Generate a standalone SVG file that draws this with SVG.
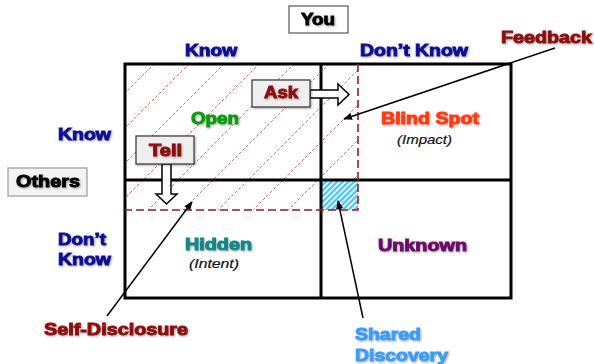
<svg xmlns="http://www.w3.org/2000/svg" width="594" height="364" viewBox="0 0 594 364">
  <defs>
    <style>
      .lbl { font-family: "Liberation Sans", Arial, sans-serif; font-weight: 700; stroke-width: 0.9; paint-order: stroke; }
      .axis { fill: #101090; stroke: #101090; font-size: 16px; }
      .dark { fill: #000; stroke: #000; font-size: 16px; }
      .maroon { fill: #8b0d0d; stroke: #8b0d0d; font-size: 16px; }
      .note { font-family: "Liberation Sans", Arial, sans-serif; font-style: italic; font-size: 13px; fill: #111; stroke: #111; stroke-width: 0.2; }
      .grid { fill: none; stroke: #000; stroke-width: 3; }
      .fence { fill: none; stroke: #a01818; stroke-width: 1.6; stroke-dasharray: 8 4; }
      .hatch { stroke: #c46060; stroke-width: 0.9; stroke-dasharray: 3 2; }
      .tag { fill: #efefef; stroke: #333; stroke-width: 1.2; }
      .block { fill: #fff; stroke: #000; stroke-width: 1.5; stroke-linejoin: miter; }
      .link { stroke: #000; stroke-width: 1.5; fill: none; marker-end: url(#tip); }
    </style>
    <filter id="shade" x="-10%" y="-20%" width="130%" height="160%">
      <feDropShadow dx="1" dy="1" stdDeviation="0.8" flood-color="#000" flood-opacity="0.35"/>
    </filter>
    <marker id="tip" viewBox="0 0 10 10" refX="9" refY="5" markerWidth="6" markerHeight="6" orient="auto" markerUnits="strokeWidth">
      <path d="M0,1 L10,5 L0,9 Z" fill="#000"/>
    </marker>
    <pattern id="blueStripe" width="4" height="4" patternUnits="userSpaceOnUse" patternTransform="rotate(-45)">
      <rect width="4" height="4" fill="#4cc4f4"/>
      <rect width="4" height="1.6" fill="#ffffff"/>
    </pattern>
    <clipPath id="knownClip">
      <rect x="125" y="63" width="233" height="147"/>
    </clipPath>
  </defs>

  <rect width="594" height="364" fill="#fff"/>

  <!-- diagonal hatching over the area known to self -->
  <g id="open-area" clip-path="url(#knownClip)">
    <g class="hatch">
      <line x1="183" y1="0" x2="0" y2="183"/>
      <line x1="218" y1="0" x2="0" y2="218"/>
      <line x1="253" y1="0" x2="0" y2="253"/>
      <line x1="288" y1="0" x2="0" y2="288"/>
      <line x1="323" y1="0" x2="0" y2="323"/>
      <line x1="358" y1="0" x2="0" y2="358"/>
      <line x1="393" y1="0" x2="0" y2="393"/>
      <line x1="428" y1="0" x2="0" y2="428"/>
      <line x1="463" y1="0" x2="63" y2="400"/>
      <line x1="498" y1="0" x2="98" y2="400"/>
      <line x1="533" y1="0" x2="133" y2="400"/>
      <line x1="568" y1="0" x2="168" y2="400"/>
      <line x1="603" y1="0" x2="203" y2="400"/>
    </g>
  </g>

  <!-- shared discovery cell -->
  <rect id="shared-cell" x="321" y="180" width="37" height="30" fill="url(#blueStripe)"/>

  <!-- window grid -->
  <g id="grid">
    <rect class="grid" x="125" y="64" width="386" height="234"/>
    <line class="grid" x1="321" y1="64" x2="321" y2="298"/>
    <line class="grid" x1="125" y1="180" x2="511" y2="180"/>
  </g>

  <!-- dashed boundary of the enlarged open area -->
  <path class="fence" d="M358,64 V210 H125"/>

  <!-- header boxes -->
  <g id="you">
    <rect x="289" y="6" width="59" height="27" fill="#fff" stroke="#555" stroke-width="1.2"/>
    <text class="lbl dark" x="301" y="25" textLength="34" lengthAdjust="spacingAndGlyphs" filter="url(#shade)">You</text>
  </g>
  <g id="others">
    <rect x="8" y="168" width="79" height="28" fill="#f4f4f4" stroke="#999" stroke-width="1.2"/>
    <text class="lbl dark" x="16" y="187" textLength="64" lengthAdjust="spacingAndGlyphs" filter="url(#shade)">Others</text>
  </g>

  <!-- axis labels -->
  <g id="axis-labels" filter="url(#shade)">
    <text class="lbl axis" x="185" y="56" textLength="52" lengthAdjust="spacingAndGlyphs">Know</text>
    <text class="lbl axis" x="360" y="56" textLength="108" lengthAdjust="spacingAndGlyphs">Don’t Know</text>
    <text class="lbl axis" x="58" y="140" textLength="53" lengthAdjust="spacingAndGlyphs">Know</text>
    <text class="lbl axis" x="58" y="245" textLength="48" lengthAdjust="spacingAndGlyphs">Don’t</text>
    <text class="lbl axis" x="58" y="265" textLength="53" lengthAdjust="spacingAndGlyphs">Know</text>
  </g>

  <!-- quadrant titles -->
  <g id="open" filter="url(#shade)">
    <text class="lbl" x="191" y="124" font-size="16" fill="#119a11" stroke="#119a11" textLength="48" lengthAdjust="spacingAndGlyphs">Open</text>
  </g>
  <g id="blind-spot">
    <text class="lbl" x="381" y="124" font-size="16" fill="#ff3a12" stroke="#ff3a12" textLength="98" lengthAdjust="spacingAndGlyphs" filter="url(#shade)">Blind Spot</text>
    <text class="note" x="397" y="144" textLength="55" lengthAdjust="spacingAndGlyphs">(Impact)</text>
  </g>
  <g id="hidden">
    <text class="lbl" x="185" y="250" font-size="16" fill="#138787" stroke="#138787" textLength="67" lengthAdjust="spacingAndGlyphs" filter="url(#shade)">Hidden</text>
    <text class="note" x="189" y="268" textLength="50" lengthAdjust="spacingAndGlyphs">(Intent)</text>
  </g>
  <g id="unknown" filter="url(#shade)">
    <text class="lbl" x="378" y="251" font-size="16" fill="#6a0a6a" stroke="#6a0a6a" textLength="89" lengthAdjust="spacingAndGlyphs">Unknown</text>
  </g>

  <!-- Ask / Tell actions -->
  <g id="ask">
    <polygon class="block" points="310,90 338,90 338,84 349,94.5 338,105 338,98 310,98"/>
    <rect class="tag" x="252" y="80" width="58" height="27" filter="url(#shade)"/>
    <text class="lbl maroon" x="264" y="98" textLength="34" lengthAdjust="spacingAndGlyphs" filter="url(#shade)">Ask</text>
  </g>
  <g id="tell">
    <polygon class="block" points="162,164 171,164 171,194 177,194 166.5,204 156,194 162,194"/>
    <rect class="tag" x="136" y="136" width="58" height="28" filter="url(#shade)"/>
    <text class="lbl maroon" x="149" y="156" textLength="33" lengthAdjust="spacingAndGlyphs" filter="url(#shade)">Tell</text>
  </g>

  <!-- callout labels -->
  <g id="feedback" filter="url(#shade)">
    <text class="lbl maroon" x="501" y="43" textLength="91" lengthAdjust="spacingAndGlyphs">Feedback</text>
  </g>
  <g id="self-disclosure" filter="url(#shade)">
    <text class="lbl maroon" x="44" y="335" textLength="144" lengthAdjust="spacingAndGlyphs">Self-Disclosure</text>
  </g>
  <g id="shared-discovery" filter="url(#shade)">
    <text class="lbl" x="355" y="340" font-size="16" fill="#3d9df5" stroke="#3d9df5" textLength="66" lengthAdjust="spacingAndGlyphs">Shared</text>
    <text class="lbl" x="355" y="361" font-size="16" fill="#3d9df5" stroke="#3d9df5" textLength="93" lengthAdjust="spacingAndGlyphs">Discovery</text>
  </g>

  <!-- callout connectors -->
  <g id="connectors">
    <line class="link" x1="555" y1="48" x2="344" y2="119"/>
    <line class="link" x1="107" y1="316" x2="192" y2="202"/>
    <line class="link" x1="363" y1="318" x2="338" y2="201"/>
  </g>
</svg>
